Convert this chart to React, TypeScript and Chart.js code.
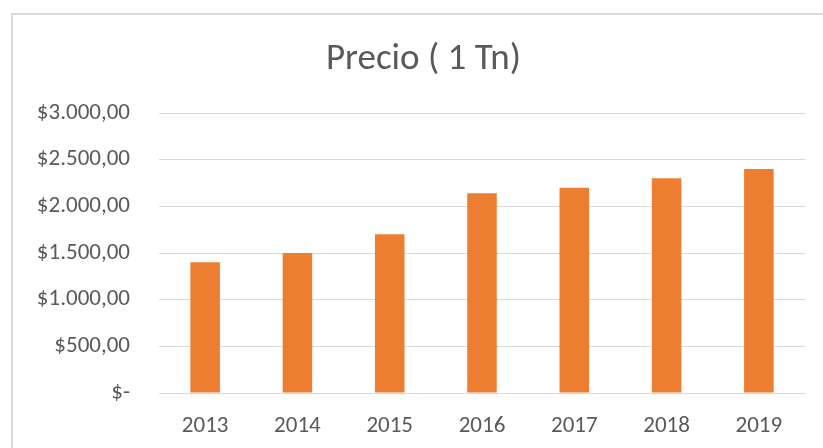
import React, { useEffect, useRef } from "react";
import { Chart, registerables } from "chart.js";

Chart.register(...registerables);

const chartTitle = "Precio ( 1 Tn)";
const years = ["2013", "2014", "2015", "2016", "2017", "2018", "2019"];
const prices = [1400, 1500, 1700, 2140, 2200, 2300, 2400];
const yMax = 3000;
const yStep = 500;

const FONT = "Carlito, Calibri, Lato, 'Open Sans', sans-serif";
const TEXT = "#595959";
const GRID = "#d9d9d9";
const BAR = "#ED7D31";

function formatMoney(v: number): string {
  if (v === 0) return "$-";
  const fixed = v.toFixed(2);
  const [intPart, dec] = fixed.split(".");
  const withDots = intPart.replace(/\B(?=(\d{3})+(?!\d))/g, ".");
  return "$" + withDots + "," + dec;
}

// Title centred over the whole chart object (which extends past the right edge)
const titlePlugin = {
  id: "excelTitle",
  afterDraw(chart: any) {
    const ctx = chart.ctx;
    ctx.save();
    ctx.font = `normal 37px ${FONT}`;
    ctx.fillStyle = TEXT;
    ctx.textAlign = "center";
    ctx.textBaseline = "middle";
    ctx.fillText(chartTitle, 423.5, 60);
    ctx.restore();
  },
};

export default function App() {
  const ref = useRef<HTMLCanvasElement | null>(null);

  useEffect(() => {
    if (!ref.current) return;
    const chart = new Chart(ref.current, {
      type: "bar",
      data: {
        labels: years,
        datasets: [
          {
            label: chartTitle,
            data: prices,
            backgroundColor: BAR,
            borderWidth: 0,
            barPercentage: 0.32,
            categoryPercentage: 1,
          },
        ],
      },
      plugins: [titlePlugin],
      options: {
        animation: false,
        responsive: false,
        maintainAspectRatio: false,
        layout: { padding: { left: 0, right: 18, top: 113, bottom: 0 } },
        plugins: {
          legend: { display: false },
          tooltip: { enabled: false },
          title: { display: false },
        },
        scales: {
          x: {
            grid: { display: false, drawTicks: false },
            border: { display: true, color: GRID, width: 1 },
            ticks: {
              color: TEXT,
              font: { family: FONT, size: 23 },
              padding: 19,
            },
            afterFit: (scale: any) => {
              scale.height = 55;
            },
          },
          y: {
            min: 0,
            max: yMax,
            grid: { color: GRID, lineWidth: 1, drawTicks: false },
            border: { display: false },
            ticks: {
              stepSize: yStep,
              color: TEXT,
              font: { family: FONT, size: 23 },
              padding: 29,
              callback: (v: any) => formatMoney(Number(v)),
            },
            afterFit: (scale: any) => {
              scale.width = 159;
            },
          },
        },
      },
    });
    return () => chart.destroy();
  }, []);

  return (
    <div
      style={{
        position: "fixed",
        left: 0,
        top: 0,
        width: 823,
        height: 448,
        overflow: "hidden",
        background: "#fff",
      }}
    >
      <div
        style={{
          position: "absolute",
          left: 11,
          top: 13,
          width: 900,
          height: 500,
          borderLeft: `2px solid ${GRID}`,
          borderTop: `2px solid ${GRID}`,
        }}
      />
      <canvas
        ref={ref}
        width={823}
        height={448}
        style={{ position: "absolute", left: 0, top: 0, width: 823, height: 448 }}
      />
    </div>
  );
}
